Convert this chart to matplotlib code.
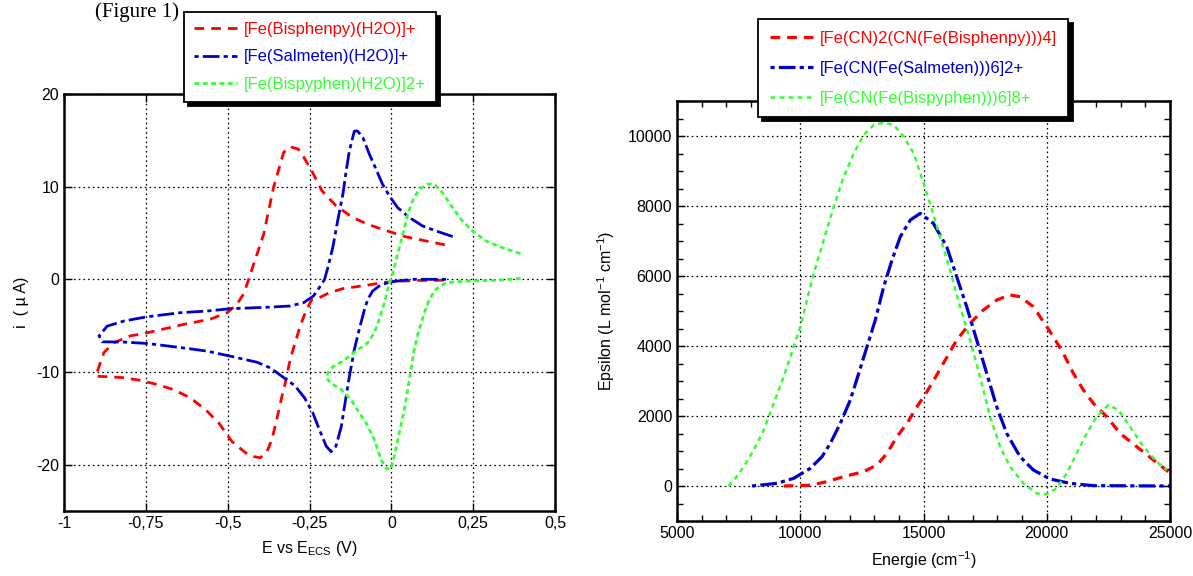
import matplotlib
matplotlib.use("Agg")
import matplotlib.pyplot as plt
from matplotlib.ticker import MultipleLocator, FixedLocator

plt.rcParams['font.family'] = ['Liberation Sans', 'DejaVu Sans']
plt.rcParams['lines.scale_dashes'] = False
plt.rcParams['axes.unicode_minus'] = False

# ---------------- Data: cyclic voltammetry (left) ----------------
cv_labels = ["[Fe(Bisphenpy)(H2O)]+", "[Fe(Salmeten)(H2O)]+", "[Fe(Bispyphen)(H2O)]2+"]

red_E = [0.16, 0.085, 0.024, -0.027, -0.077, -0.148, -0.189, -0.22, -0.243, -0.263, -0.278,
         -0.294, -0.309, -0.324, -0.334, -0.35, -0.365, -0.38, -0.40, -0.426, -0.446, -0.487,
         -0.527, -0.568, -0.614, -0.665, -0.716, -0.766, -0.822, -0.903,
         -0.893, -0.878, -0.848, -0.797, -0.746, -0.634, -0.553, -0.502, -0.472, -0.45,
         -0.436, -0.39, -0.36, -0.329, -0.309, -0.284, -0.268, -0.243, -0.212, -0.169,
         -0.118, -0.067, -0.006, 0.045, 0.106, 0.167]
red_i = [-0.1, -0.12, -0.2, -0.36, -0.65, -1.0, -1.44, -1.98, -2.16, -3.6, -5.0,
         -6.85, -8.65, -11.2, -12.6, -15.1, -17.3, -18.6, -19.25, -19.1, -18.7, -17.5,
         -15.5, -14.05, -12.8, -11.9, -11.35, -10.9, -10.6, -10.45,
         -9.4, -7.9, -6.85, -6.1, -5.77, -4.86, -4.3, -3.6, -2.7, -1.5,
         0.0, 4.86, 9.9, 13.7, 14.3, 14.05, 13.2, 11.7, 9.55, 7.93,
         6.67, 5.87, 5.15, 4.58, 4.14, 3.7]

blue_E = [0.167, 0.065, -0.006, -0.037, -0.057, -0.072, -0.082, -0.098, -0.113, -0.128,
          -0.138, -0.153, -0.169, -0.184, -0.199, -0.22, -0.24, -0.265, -0.294, -0.329,
          -0.37, -0.411, -0.492, -0.563, -0.614, -0.695, -0.746, -0.817, -0.883,
          -0.893, -0.868, -0.817, -0.746, -0.644, -0.563, -0.492, -0.39, -0.309, -0.268,
          -0.238, -0.214, -0.204, -0.194, -0.179, -0.164, -0.148, -0.138, -0.128, -0.113,
          -0.103, -0.087, -0.067, -0.047, -0.027, -0.006, 0.019, 0.055, 0.095, 0.136, 0.197]
blue_i = [0.0, 0.0, -0.29, -0.72, -1.26, -2.16, -3.24, -5.4, -7.57, -10.45,
          -12.6, -15.9, -18.0, -18.6, -18.0, -16.2, -14.4, -12.8, -11.5, -10.6,
          -9.55, -8.94, -8.29, -7.75, -7.5, -7.14, -6.92, -6.77, -6.74,
          -6.1, -5.05, -4.5, -4.04, -3.6, -3.42, -3.17, -3.03, -2.88, -2.52,
          -1.8, -0.6, 0.0, 1.26, 3.42, 6.31, 9.19, 11.7, 13.9, 16.0,
          16.0, 15.3, 13.5, 11.9, 10.27, 9.0, 7.75, 6.67, 5.77, 5.23, 4.5]

green_E = [0.395, 0.329, 0.228, 0.167, 0.136, 0.116, 0.101, 0.085, 0.07, 0.06, 0.05, 0.04,
           0.024, 0.009, -0.001, -0.016, -0.031, -0.052, -0.077, -0.098, -0.123, -0.153,
           -0.184, -0.199, -0.194, -0.179, -0.148, -0.108, -0.072, -0.052, -0.037, -0.021,
           -0.006, 0.004, 0.019, 0.035, 0.05, 0.065, 0.085, 0.111, 0.131, 0.156, 0.187,
           0.217, 0.248, 0.289, 0.339, 0.395]
green_i = [0.1, -0.1, -0.18, -0.36, -1.08, -2.16, -3.6, -5.4, -7.57, -9.73, -11.9, -14.05,
           -16.6, -19.1, -20.5, -20.4, -19.5, -17.3, -15.5, -14.4, -13.0, -11.9,
           -11.2, -10.6, -10.1, -9.44, -8.83, -7.75, -6.85, -5.77, -4.32, -2.52,
           -0.36, 0.54, 2.7, 4.86, 7.03, 8.47, 9.73, 10.27, 10.27, 9.37, 7.75,
           6.31, 5.23, 4.14, 3.42, 2.77]

cv_xticks = [-1, -0.75, -0.5, -0.25, 0, 0.25, 0.5]
cv_xticklabels = ["-1", "-0,75", "-0,5", "-0,25", "0", "0,25", "0,5"]
cv_yticks = [-20, -10, 0, 10, 20]

# ---------------- Data: absorption spectra (right) ----------------
uv_labels = ["[Fe(CN)2(CN(Fe(Bisphenpy)))4]", "[Fe(CN(Fe(Salmeten)))6]2+", "[Fe(CN(Fe(Bispyphen)))6]8+"]

uv_red_x = [9329, 10408, 11085, 11763, 12574, 13114, 13520, 13925, 14331, 14737, 15100,
            15400, 15805, 16346, 16887, 17428, 17969, 18510, 18916, 19456, 19862, 20268,
            20673, 21079, 21485, 21891, 22432, 22973, 23649, 24325, 24934]
uv_red_y = [0, 20, 124, 267, 410, 600, 933, 1410, 1790, 2266, 2650,
            3000, 3505, 4171, 4647, 5028, 5314, 5457, 5409, 5123, 4695, 4266,
            3790, 3219, 2743, 2362, 1981, 1505, 1124, 743, 410]

uv_blue_x = [8043, 9057, 9735, 10408, 10883, 11220, 11625, 12031, 12372, 12708, 13045,
             13386, 13722, 14059, 14465, 14870, 15400, 15941, 16346, 16752, 17158,
             17564, 17969, 18375, 18916, 19456, 20133, 20945, 21891, 25000]
uv_blue_y = [0, 76, 220, 505, 838, 1219, 1790, 2457, 3219, 3981, 4743,
             5695, 6457, 7123, 7599, 7790, 7504, 6837, 5980, 5123, 4171,
             3219, 2266, 1505, 838, 457, 200, 76, 10, 0]

uv_green_x = [7096, 7366, 7706, 8112, 8518, 8923, 9329, 9735, 10003, 10274, 10546, 10951,
              11357, 11763, 12169, 12574, 12980, 13386, 13792, 14198, 14603, 14930,
              15264, 15670, 16076, 16481, 16887, 17293, 17699, 18104, 18510, 19051,
              19592, 19998, 20404, 20810, 21215, 21621, 22027, 22500, 22904, 23379,
              23920, 24461, 24867]
uv_green_y = [0, 220, 552, 1029, 1600, 2362, 3124, 3981, 4552, 5314, 6077, 7028,
              7980, 8837, 9505, 10028, 10314, 10380, 10314, 9980, 9505, 8800,
              8076, 7123, 6171, 5123, 4171, 3124, 1981, 1124, 552, 76,
              -210, -238, -67, 362, 933, 1505, 1981, 2314, 2171, 1695,
              1124, 695, 457]

uv_yticks = [0, 2000, 4000, 6000, 8000, 10000]

RED = '#ff0000'
BLUE = '#0000cc'
GREEN = '#33ff33'
FS = 11.5
LFS = 12

fig = plt.figure(figsize=(11.93, 5.76), dpi=100)

# ---- left axes
axL = fig.add_axes([64/1193, 1-511/576, (555-64)/1193, (511-94)/576])
axL.plot(red_E, red_i, color=RED, lw=2.0, dashes=(7, 5), label=cv_labels[0])
axL.plot(blue_E, blue_i, color=BLUE, lw=2.0, dashes=(3, 3, 12, 3), label=cv_labels[1])
axL.plot(green_E, green_i, color=GREEN, lw=2.0, dashes=(3.5, 2.5), label=cv_labels[2])
axL.set_xlim(-1, 0.5)
axL.set_ylim(-25, 20)
axL.xaxis.set_major_locator(FixedLocator(cv_xticks))
axL.set_xticklabels(cv_xticklabels)
axL.yaxis.set_major_locator(FixedLocator(cv_yticks))
axL.set_xlabel("E vs E$_{\\mathregular{ECS}}$ (V)", fontsize=FS, labelpad=6)
axL.set_ylabel("i  ( µ A)", fontsize=FS, labelpad=5)

# ---- right axes
axR = fig.add_axes([677/1193, 1-521/576, (1170-677)/1193, (521-101)/576])
axR.plot(uv_red_x, uv_red_y, color=RED, lw=2.3, dashes=(7, 5), label=uv_labels[0])
axR.plot(uv_blue_x, uv_blue_y, color=BLUE, lw=2.3, dashes=(3, 3, 12, 3), label=uv_labels[1])
axR.plot(uv_green_x, uv_green_y, color=GREEN, lw=1.8, dashes=(3.5, 3), label=uv_labels[2])
axR.set_xlim(5000, 25000)
axR.set_ylim(-1000, 11000)
axR.xaxis.set_major_locator(MultipleLocator(5000))
axR.xaxis.set_minor_locator(MultipleLocator(1000))
axR.yaxis.set_major_locator(FixedLocator(uv_yticks))
axR.yaxis.set_minor_locator(MultipleLocator(500))
axR.set_xlabel("Energie (cm$^{\\mathregular{-1}}$)", fontsize=FS, labelpad=6)
axR.set_ylabel("Epsilon (L mol$^{\\mathregular{-1}}$ cm$^{\\mathregular{-1}}$)", fontsize=FS, labelpad=8)

for ax in (axL, axR):
    ax.grid(True, which='major', color='black', linestyle=(0, (1.2, 2.2)), linewidth=0.9)
    ax.tick_params(which='both', direction='in', top=True, right=True, labelsize=FS,
                   width=1.0, color='black')
    ax.tick_params(which='major', length=6)
    ax.tick_params(which='minor', length=4)
    for s in ax.spines.values():
        s.set_linewidth(1.8)
    ax.set_axisbelow(True)

def make_legend(ax, anchor, spacing, pad):
    leg = ax.legend(loc='upper left', bbox_to_anchor=anchor, bbox_transform=fig.transFigure,
                    fontsize=LFS, handlelength=2.6, handletextpad=0.4, labelspacing=spacing,
                    borderpad=pad, borderaxespad=0, fancybox=False,
                    shadow={'color': 'black', 'alpha': 1.0, 'ox': 3, 'oy': -3},
                    framealpha=1.0, edgecolor='black')
    leg.get_frame().set_linewidth(1.3)
    leg.set_zorder(10)
    for txt, line in zip(leg.get_texts(), leg.get_lines()):
        txt.set_color(line.get_color())
    return leg

make_legend(axL, (184/1193, 1-12/576), 0.75, 0.6)
make_legend(axR, (758/1193, 1-19/576), 0.9, 0.7)

# caption at the very top of the page
fig.text(95/1193, 1-2/576, "(Figure 1)", fontsize=15, family='Liberation Serif',
         va='top', ha='left')

fig.savefig("out.png", dpi=100)
